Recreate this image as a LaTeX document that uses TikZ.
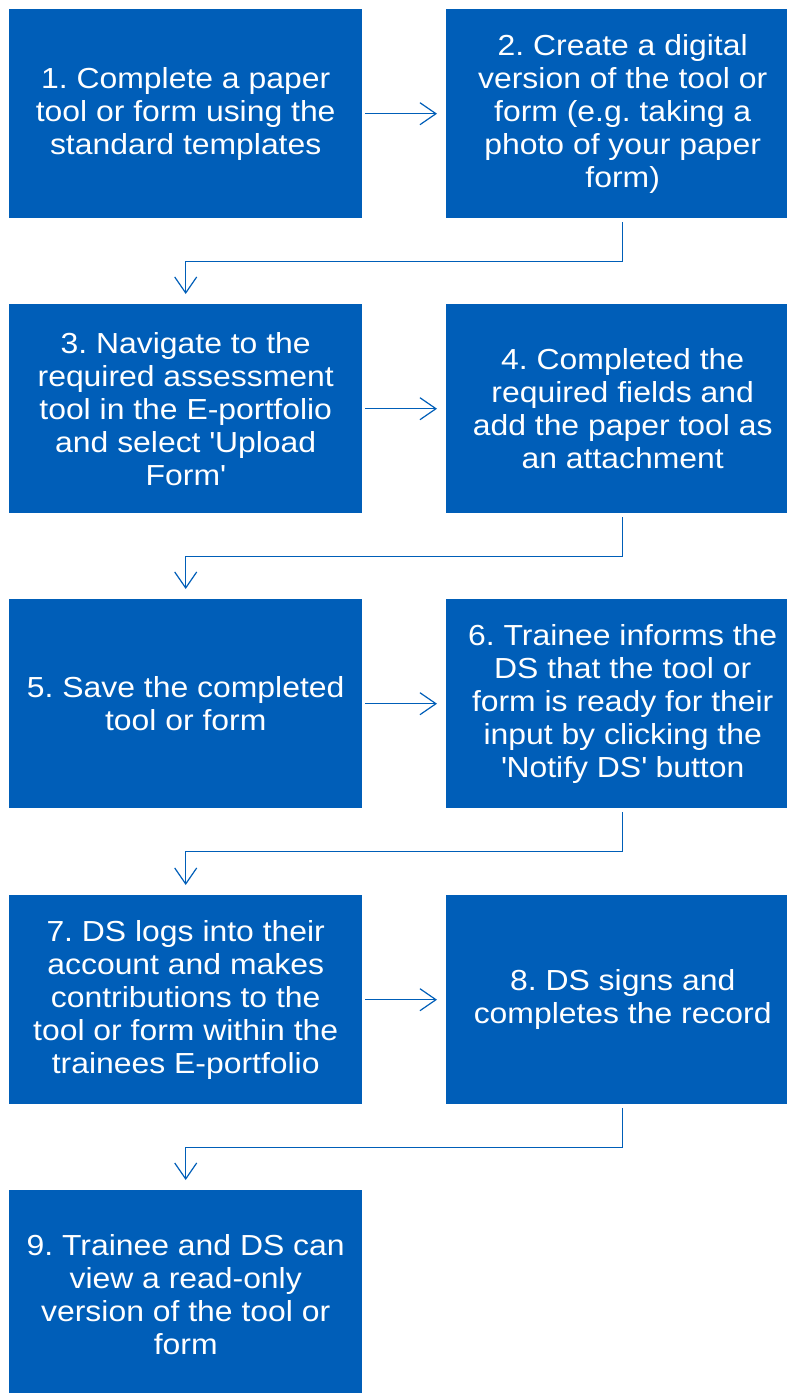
\documentclass[tikz,border=0pt]{standalone}
\usepackage{fontspec}
\setmainfont{Liberation Sans}[FakeStretch=1.1]
\usetikzlibrary{arrows.meta}
\definecolor{nhsblue}{HTML}{005EB8}
\begin{document}
\frenchspacing
\begin{tikzpicture}[x=1pt,y=1pt,
  stepbox/.style={rectangle, fill=nhsblue, draw=none, minimum width=353pt, minimum height=209pt,
    inner sep=0pt, text=white, align=center, font=\fontsize{29}{33}\selectfont, anchor=north west},
  conn/.style={draw=nhsblue, line width=1.2pt, -{Straight Barb[length=16pt,width=22pt,line width=1.2pt]}}]
\useasboundingbox (0,0) rectangle (787,-1393);
\clip (0,0) rectangle (787,-1393);
\node[stepbox] (n1) at (9,-9) {1. Complete a paper\\tool or form using the\\standard templates};
\node[stepbox] (n2) at (446,-9) {2. Create a digital\\version of the tool or\\form (e.g. taking a\\photo of your paper\\form)};
\node[stepbox] (n3) at (9,-304) {3. Navigate to the\\required assessment\\tool in the E-portfolio\\and select \textquotesingle Upload\\Form\textquotesingle};
\node[stepbox] (n4) at (446,-304) {4. Completed the\\required fields and\\add the paper tool as\\an attachment};
\node[stepbox] (n5) at (9,-599) {5. Save the completed\\tool or form};
\node[stepbox] (n6) at (446,-599) {6. Trainee informs the\\DS that the tool or\\form is ready for their\\input by clicking the\\\textquotesingle Notify DS\textquotesingle\ button};
\node[stepbox] (n7) at (9,-895) {7. DS logs into their\\account and makes\\contributions to the\\tool or form within the\\trainees E-portfolio};
\node[stepbox] (n8) at (446,-895) {8. DS signs and\\completes the record};
\node[stepbox] (n9) at (9,-1190) {9. Trainee and DS can\\view a read-only\\version of the tool or\\form};
\foreach \a/\b in {n1/n2,n3/n4,n5/n6,n7/n8}{
  \draw[conn, shorten <=3pt, shorten >=9pt] (\a.east) -- (\b.west);
}
\foreach \a/\b in {n2/n3,n4/n5,n6/n7,n8/n9}{
  \draw[conn, shorten <=4pt, shorten >=10pt] (\a.south) -- ++(0,-43) -| (\b.north);
}
\end{tikzpicture}
\end{document}
